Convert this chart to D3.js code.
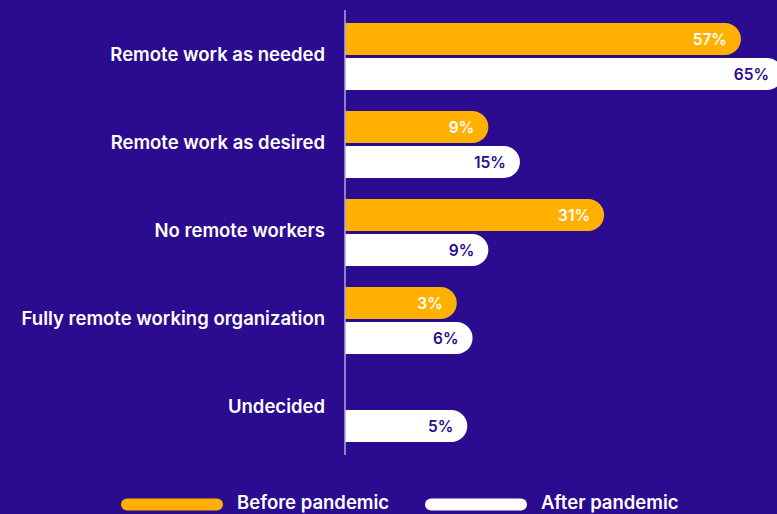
<!DOCTYPE html>
<html>
<head>
<meta charset="utf-8">
<script src="https://cdn.jsdelivr.net/npm/d3@7/dist/d3.min.js"></script>
<style>
  html, body { margin: 0; padding: 0; background: #2b0b8f; }
  svg { display: block; }
  text { font-family: Inter, "Noto Sans", sans-serif; }
</style>
</head>
<body>
<svg id="chart" width="777" height="514"></svg>
<script>
// Remote work policy, share of organizations before and after the pandemic
const categories = [
  "Remote work as needed",
  "Remote work as desired",
  "No remote workers",
  "Fully remote working organization",
  "Undecided"
];
const beforeValues = [57, 9, 31, 3, null];
const afterValues  = [65, 15, 9, 6, 5];
const seriesNames  = ["Before pandemic", "After pandemic"];

const W = 777, H = 514;
const BG = "#2b0b8f", ORANGE = "#ffb000", WHITE = "#ffffff", AXIS = "#b3a6de";
const axisX = 345;

const svg = d3.select("#chart");
svg.append("rect").attr("width", W).attr("height", H).attr("fill", BG);

// Category bands
const y = d3.scaleBand().domain(categories).range([12.5, 452.5]).padding(0);

// Bar length: every bar carries a fixed base so small values still fit their label
const x = d3.scaleLinear().domain([0, 65]).range([96, 438]);

const barH = 32, gap = 3;

const series = [
  { name: seriesNames[0], values: beforeValues, fill: ORANGE, text: WHITE, offset: -gap / 2 - barH },
  { name: seriesNames[1], values: afterValues,  fill: WHITE,  text: BG,    offset: gap / 2 }
];

// Bar with a square left end and a fully rounded right end
function pill(x0, y0, w, h) {
  const r = h / 2;
  return `M${x0},${y0}H${x0 + w - r}A${r},${r} 0 0 1 ${x0 + w - r},${y0 + h}H${x0}Z`;
}

const plot = svg.append("g");

series.forEach(s => {
  const rows = categories.map((c, i) => ({ c, v: s.values[i] })).filter(d => d.v != null);
  const g = plot.append("g");
  g.selectAll("path").data(rows).join("path")
    .attr("d", d => pill(axisX, y(d.c) + y.bandwidth() / 2 + s.offset, x(d.v), barH))
    .attr("fill", s.fill);
  g.selectAll("text").data(rows).join("text")
    .attr("x", d => axisX + x(d.v) - 14)
    .attr("y", d => y(d.c) + y.bandwidth() / 2 + s.offset + barH / 2)
    .attr("dy", "0.36em")
    .attr("text-anchor", "end")
    .attr("fill", s.text)
    .attr("font-size", 15.5)
    .attr("font-weight", 600)
    .text(d => d.v + "%");
});

// Vertical axis line
svg.append("line")
  .attr("x1", axisX).attr("x2", axisX)
  .attr("y1", 10).attr("y2", 455)
  .attr("stroke", AXIS).attr("stroke-width", 1.5);

// Category labels
svg.append("g").selectAll("text").data(categories).join("text")
  .attr("x", 325)
  .attr("y", d => y(d) + y.bandwidth() / 2 - 2)
  .attr("dy", "0.36em")
  .attr("text-anchor", "end")
  .attr("fill", WHITE)
  .attr("font-size", 18.5)
  .attr("font-weight", 600)
  .text(d => d);

// Legend
const legend = svg.append("g");
const legendItems = [
  { name: seriesNames[0], fill: ORANGE, x: 121 },
  { name: seriesNames[1], fill: WHITE,  x: 425 }
];
legendItems.forEach(it => {
  legend.append("rect")
    .attr("x", it.x).attr("y", 498.5)
    .attr("width", 102).attr("height", 12)
    .attr("rx", 6)
    .attr("fill", it.fill);
  legend.append("text")
    .attr("x", it.x + 116).attr("y", 509)
    .attr("fill", WHITE)
    .attr("font-size", 18.5)
    .attr("font-weight", 600)
    .text(it.name);
});
</script>
</body>
</html>
